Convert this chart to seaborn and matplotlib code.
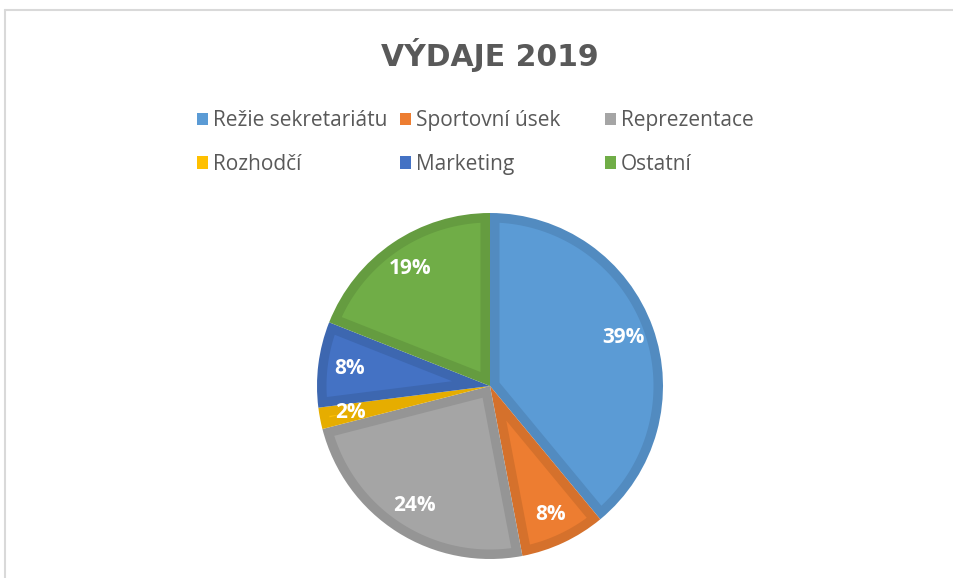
import matplotlib
matplotlib.use("Agg")
import numpy as np
import matplotlib.pyplot as plt
import seaborn as sns
from matplotlib.patches import Patch, Polygon
from matplotlib.lines import Line2D
import matplotlib.colors as mcolors

categories = ["Režie sekretariátu", "Sportovní úsek", "Reprezentace", "Rozhodčí", "Marketing", "Ostatní"]
values = [39, 8, 24, 2, 8, 19]
colors = ["#5B9BD5", "#ED7D31", "#A5A5A5", "#FFC000", "#4472C4", "#70AD47"]
title = "VÝDAJE 2019"

sns.set_theme(style="white")
plt.rcParams["font.family"] = ["Open Sans", "DejaVu Sans"]

W, H = 954, 578
fig = plt.figure(figsize=(W / 100, H / 100), dpi=100)
fig.patch.set_facecolor("white")

cx, cy, r = 490, 386, 173
ax = fig.add_axes([(cx - r) / W, (H - cy - r) / H, 2 * r / W, 2 * r / H])

def darker(c, f=0.9):
    return tuple(v * f for v in mcolors.to_rgb(c))

wedges, texts, autotexts = ax.pie(
    values, colors=[darker(c) for c in colors], startangle=90, counterclock=False,
    radius=1.0, autopct="%1.0f%%", pctdistance=0.82,
    wedgeprops=dict(linewidth=0),
    textprops=dict(color="white", fontsize=15, fontweight="bold"),
)
ax.set_xlim(-1, 1)
ax.set_ylim(-1, 1)
ax.set_aspect("equal")
ax.axis("off")

# lighter inner fill (inset of each wedge), leaving a darker border
d = 9.5 / r
rho = 1 - d
for w, c in zip(wedges, colors):
    t1, t2 = np.radians(w.theta1), np.radians(w.theta2)
    half = (t2 - t1) / 2
    da = np.arcsin(d / rho)
    if t2 - t1 - 2 * da <= 0:
        continue
    apex_r = d / np.sin(half) if half < np.pi / 2 else d
    if apex_r >= rho:
        continue
    mid = (t1 + t2) / 2
    apex = (apex_r * np.cos(mid), apex_r * np.sin(mid))
    angs = np.linspace(t1 + da, t2 - da, 200)
    pts = [apex] + [(rho * np.cos(a), rho * np.sin(a)) for a in angs]
    ax.add_patch(Polygon(pts, closed=True, facecolor=c, edgecolor="none", zorder=1.5))
for t in autotexts:
    t.set_zorder(5)

fig.text(cx / W, 1 - 55 / H, title, ha="center", va="center",
         fontsize=21.5, fontweight="bold", color="#595959",
         family=["DejaVu Sans"])

# legend: 3 columns with equal width, row-major order like the reference
col_x = [197, 400, 605]
for j in range(3):
    idx = [j, j + 3]
    handles = [Patch(facecolor=colors[i], edgecolor="none") for i in idx]
    fig.legend(handles, [categories[i] for i in idx], ncol=1, loc="center left",
               bbox_to_anchor=(col_x[j] / W, 1 - 142.5 / H), frameon=False,
               fontsize=15, labelcolor="#595959", borderpad=0, borderaxespad=0,
               handlelength=0.52, handleheight=0.52, handletextpad=0.25,
               labelspacing=1.1)

fig.add_artist(Line2D([5 / W, 1], [1 - 10 / H, 1 - 10 / H], color="#D9D9D9", lw=1.5))
fig.add_artist(Line2D([5 / W, 5 / W], [0, 1 - 10 / H], color="#D9D9D9", lw=1.5))

fig.savefig("out.png", dpi=100)
